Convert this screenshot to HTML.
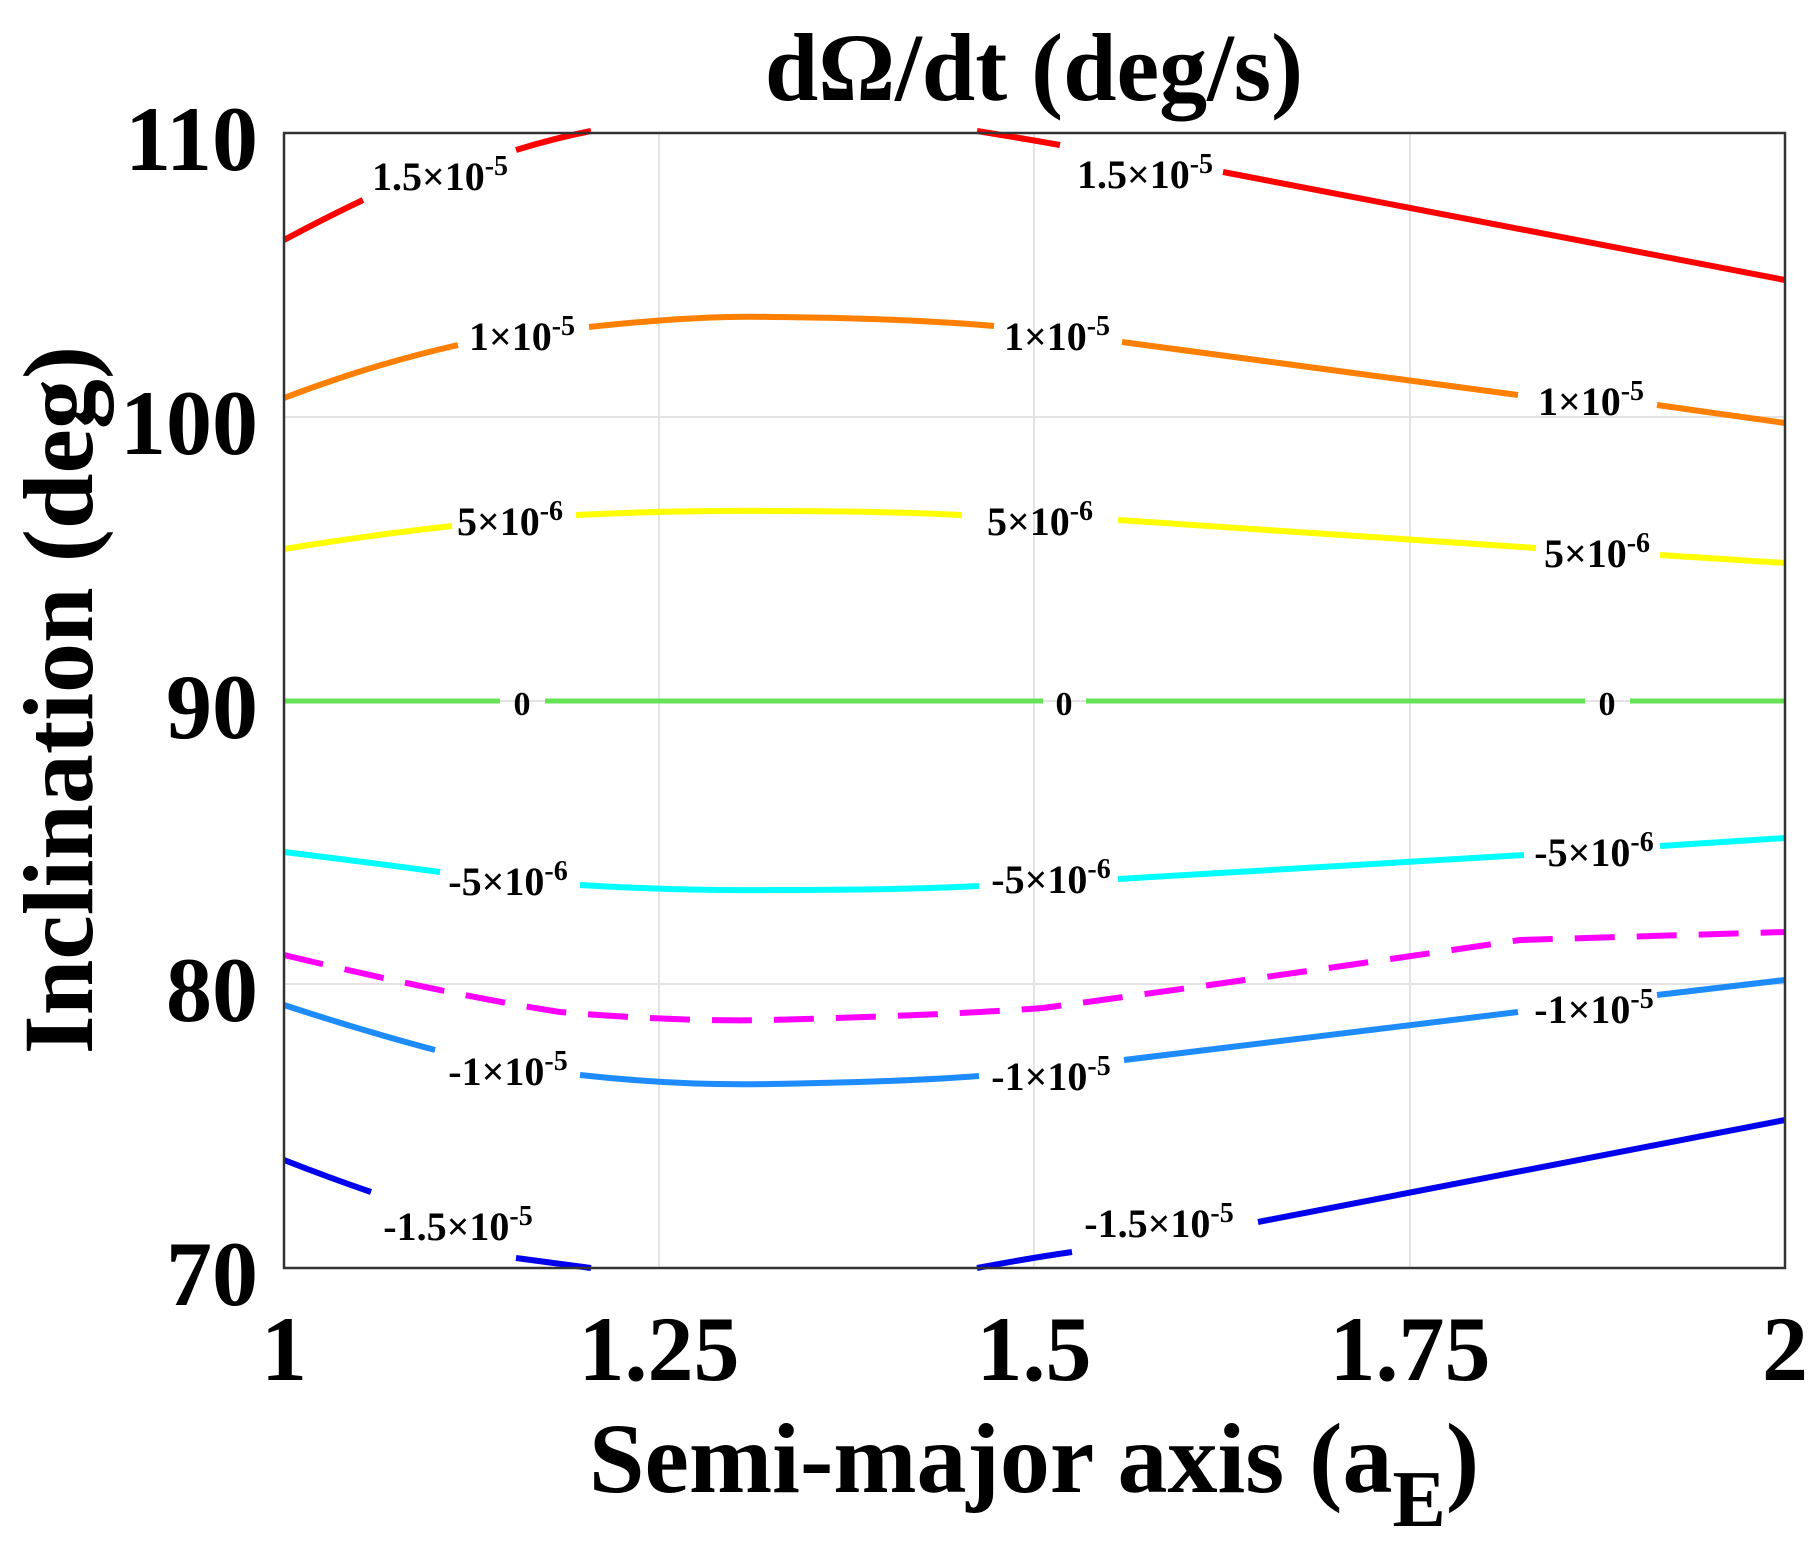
<!DOCTYPE html>
<html><head><meta charset="utf-8"><style>
html,body{margin:0;padding:0;background:#fff;}
svg{display:block;}
text{font-family:"Liberation Serif",serif;font-weight:bold;fill:#000;}
.lb{font-size:40px;}
.tk{font-size:92px;}
</style></head><body>
<svg width="1817" height="1562" viewBox="0 0 1817 1562" xmlns="http://www.w3.org/2000/svg">
<rect width="1817" height="1562" fill="#fff"/>
<g stroke="#e3e3e3" stroke-width="2">
<line x1="659" y1="133" x2="659" y2="1268"/>
<line x1="1034" y1="133" x2="1034" y2="1268"/>
<line x1="1410" y1="133" x2="1410" y2="1268"/>
<line x1="284" y1="417" x2="1785" y2="417"/>
<line x1="284" y1="701" x2="1785" y2="701"/>
<line x1="284" y1="984" x2="1785" y2="984"/>
</g>
<g fill="none" stroke-width="6" stroke-linecap="butt">
<path d="M284,240 Q325,218 363,200" stroke="#ff0000"/>
<path d="M516,150 Q555,138 591,131" stroke="#ff0000"/>
<path d="M977,131 Q1020,138 1060,145" stroke="#ff0000"/>
<path d="M1223,172 L1785,280" stroke="#ff0000"/>
<path d="M284,398 Q370,365 458,345" stroke="#ff8000"/>
<path d="M589,327 Q700,315 771,317 Q900,318 994,326" stroke="#ff8000"/>
<path d="M1122,342 L1518,395" stroke="#ff8000"/>
<path d="M1657,405 L1785,423" stroke="#ff8000"/>
<path d="M284,549 Q370,535 452,526" stroke="#ffff00"/>
<path d="M576,515 Q680,510 771,511 Q880,511 962,515" stroke="#ffff00"/>
<path d="M1118,520 L1536,548" stroke="#ffff00"/>
<path d="M1660,555 L1785,563" stroke="#ffff00"/>
<path d="M284,701 H500 M545,701 H1043 M1086,701 H1585 M1630,701 H1785" stroke="#66e355" stroke-width="5"/>
<path d="M284,852 Q365,862 440,872" stroke="#00ffff"/>
<path d="M580,885 Q680,891 771,890 Q900,890 979,886" stroke="#00ffff"/>
<path d="M1118,879 L1524,855" stroke="#00ffff"/>
<path d="M1660,846 L1785,838" stroke="#00ffff"/>
<path d="M284,955 Q450,995 560,1012 Q680,1022 771,1020 Q950,1015 1043,1008 Q1250,980 1520,940 L1785,932" stroke="#ff00ff" stroke-dasharray="40,22"/>
<path d="M284,1005 Q360,1030 435,1050" stroke="#1e8cff"/>
<path d="M580,1075 Q680,1086 771,1084 Q900,1082 979,1076" stroke="#1e8cff"/>
<path d="M1124,1060 L1518,1012" stroke="#1e8cff"/>
<path d="M1657,995 L1785,980" stroke="#1e8cff"/>
<path d="M284,1160 Q330,1178 371,1192" stroke="#0000ee"/>
<path d="M516,1258 L591,1268" stroke="#0000ee"/>
<path d="M977,1268 Q1030,1258 1072,1252" stroke="#0000ee"/>
<path d="M1258,1222 L1785,1120" stroke="#0000ee"/>
</g>
<rect x="284" y="133" width="1501" height="1135" fill="none" stroke="#333" stroke-width="2.5"/>
<g class="lb" text-anchor="middle">
<text x="440" y="190">1.5×10<tspan dy="-15" font-size="28">-5</tspan></text>
<text x="1145" y="188">1.5×10<tspan dy="-15" font-size="28">-5</tspan></text>
<text x="522" y="350">1×10<tspan dy="-15" font-size="28">-5</tspan></text>
<text x="1057" y="350">1×10<tspan dy="-15" font-size="28">-5</tspan></text>
<text x="1591" y="415">1×10<tspan dy="-15" font-size="28">-5</tspan></text>
<text x="510" y="535">5×10<tspan dy="-15" font-size="28">-6</tspan></text>
<text x="1040" y="535">5×10<tspan dy="-15" font-size="28">-6</tspan></text>
<text x="1597" y="567">5×10<tspan dy="-15" font-size="28">-6</tspan></text>
<text x="522" y="715" font-size="34" font-weight="normal" font-family="Liberation Sans, sans-serif">0</text>
<text x="1064" y="715" font-size="34" font-weight="normal" font-family="Liberation Sans, sans-serif">0</text>
<text x="1607" y="715" font-size="34" font-weight="normal" font-family="Liberation Sans, sans-serif">0</text>
<text x="508" y="895">-5×10<tspan dy="-15" font-size="28">-6</tspan></text>
<text x="1051" y="893">-5×10<tspan dy="-15" font-size="28">-6</tspan></text>
<text x="1594" y="866">-5×10<tspan dy="-15" font-size="28">-6</tspan></text>
<text x="508" y="1085">-1×10<tspan dy="-15" font-size="28">-5</tspan></text>
<text x="1051" y="1090">-1×10<tspan dy="-15" font-size="28">-5</tspan></text>
<text x="1594" y="1023">-1×10<tspan dy="-15" font-size="28">-5</tspan></text>
<text x="458" y="1240">-1.5×10<tspan dy="-15" font-size="28">-5</tspan></text>
<text x="1159" y="1237">-1.5×10<tspan dy="-15" font-size="28">-5</tspan></text>
</g>
<g class="tk" text-anchor="end">
<text x="258" y="170">110</text>
<text x="258" y="454">100</text>
<text x="258" y="738">90</text>
<text x="258" y="1021">80</text>
<text x="258" y="1305">70</text>
</g>
<g class="tk" text-anchor="middle">
<text x="284" y="1380">1</text>
<text x="659" y="1380">1.25</text>
<text x="1034" y="1380">1.5</text>
<text x="1410" y="1380">1.75</text>
<text x="1785" y="1380">2</text>
</g>
<text x="1034" y="100" text-anchor="middle" font-size="96">dΩ/dt (deg/s)</text>
<text x="1034" y="1492" text-anchor="middle" font-size="100">Semi-major axis (a<tspan dy="34" font-size="80">E</tspan><tspan dy="-34">)</tspan></text>
<text transform="translate(92,700) rotate(-90)" text-anchor="middle" font-size="100">Inclination (deg)</text>
</svg>
</body></html>
